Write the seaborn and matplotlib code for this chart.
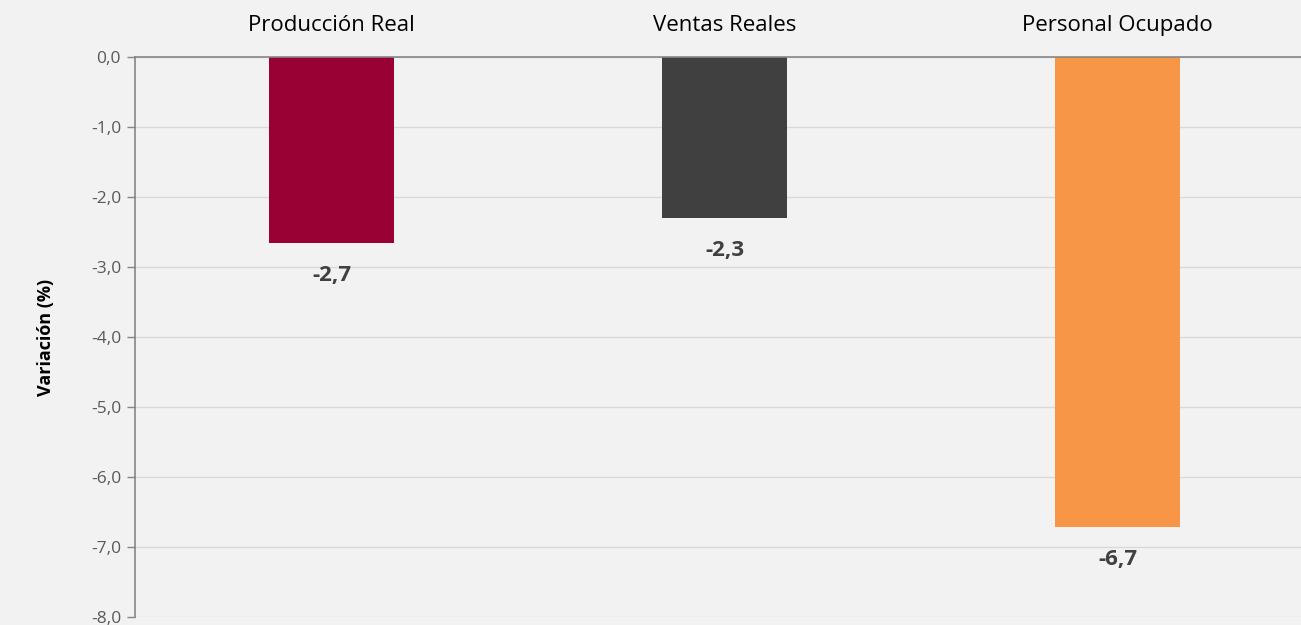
import seaborn as sns
import matplotlib
matplotlib.use("Agg")
from matplotlib import pyplot as plt
import matplotlib.ticker as ticker
import pandas as pd

categorias = ["Producción Real", "Ventas Reales", "Personal Ocupado"]
variacion = [-2.66, -2.30, -6.71]
colores = ["#990033", "#404040", "#F79646"]
yticks = [0, -1, -2, -3, -4, -5, -6, -7, -8]

df = pd.DataFrame({"categoria": categorias, "variacion": variacion})

sns.set_theme(style="white")
plt.rcParams['font.family'] = ['Open Sans', 'DejaVu Sans']

fig = plt.figure(figsize=(13.01, 6.25), dpi=100, facecolor="#F2F2F2")
ax = fig.add_axes([135/1301, 1-617/625, 1179/1301, 560/625])
ax.set_facecolor("#F2F2F2")

sns.barplot(data=df, x="categoria", y="variacion", hue="categoria",
            palette=colores, legend=False, width=0.318, saturation=1, ax=ax,
            linewidth=0, zorder=3)

ax.set_ylim(-8, 0)
ax.set_xlim(-0.5, 2.5)
ax.yaxis.set_major_locator(ticker.FixedLocator(yticks))
ax.yaxis.set_major_formatter(ticker.FuncFormatter(lambda v, p: f"{v:.1f}".replace(".", ",")))
ax.grid(True, axis="y", color="#D9D9D9", linewidth=1, zorder=0)
ax.grid(False, axis="x")

ax.xaxis.tick_top()
ax.xaxis.set_label_position("top")
ax.set_xlabel("")
ax.tick_params(axis="x", length=0, pad=15, labelsize=16, labelcolor="#000000")
ax.tick_params(axis="y", left=True, length=6, width=1, color="#868686",
               labelsize=12.5, labelcolor="#595959", pad=4)
ax.set_ylabel("Variación (%)", fontsize=13, fontweight="bold", color="#000000", labelpad=26)

for s in ["right", "bottom"]:
    ax.spines[s].set_visible(False)
for s in ["top", "left"]:
    ax.spines[s].set_color("#868686")
    ax.spines[s].set_linewidth(1.2)
    ax.spines[s].set_zorder(4)

for i, v in enumerate(variacion):
    ax.annotate(f"{v:.1f}".replace(".", ","), (i, v), xytext=(0, -16),
                textcoords="offset points", ha="center", va="top",
                fontsize=16, fontweight="bold", color="#404040")

fig.savefig("out.png", dpi=100, facecolor=fig.get_facecolor())
